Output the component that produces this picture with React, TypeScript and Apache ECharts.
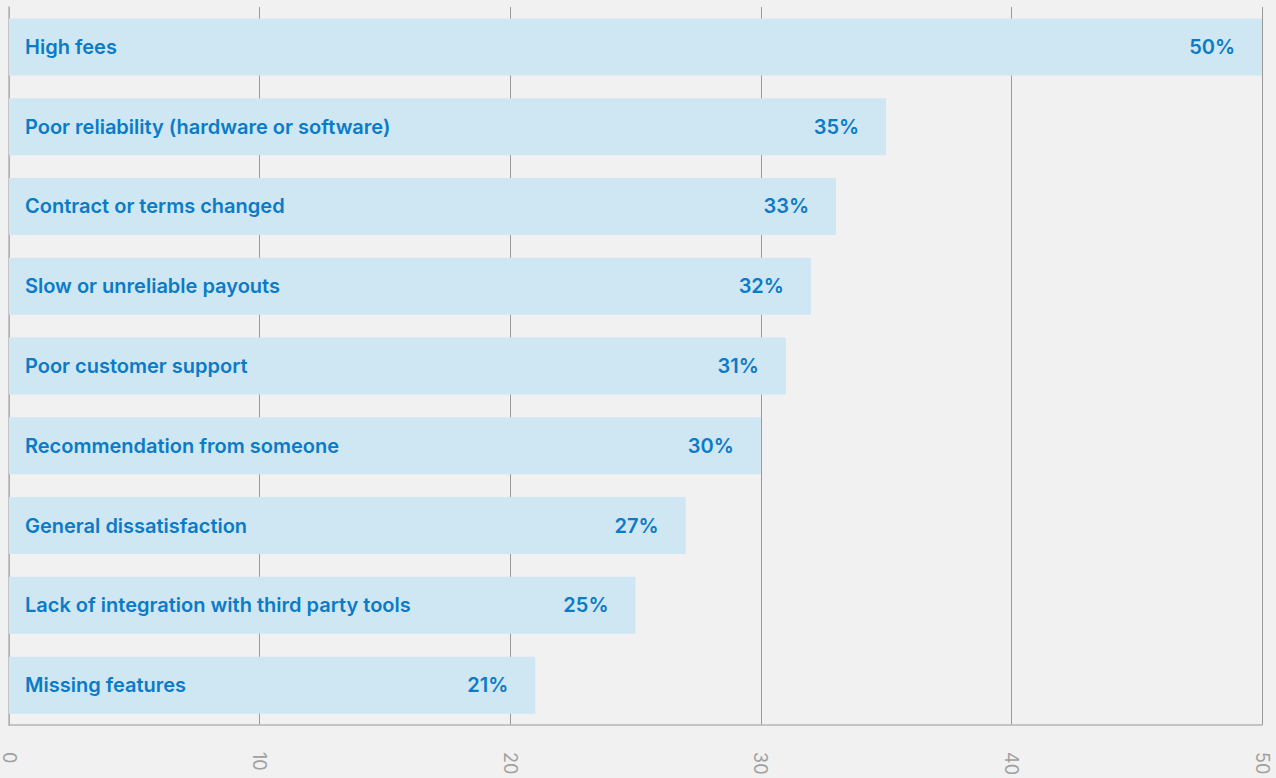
import React, { useEffect, useRef } from "react";
import * as echarts from "echarts";

const categories = [
  "High fees",
  "Poor reliability (hardware or software)",
  "Contract or terms changed",
  "Slow or unreliable payouts",
  "Poor customer support",
  "Recommendation from someone",
  "General dissatisfaction",
  "Lack of integration with third party tools",
  "Missing features",
];
const values = [50, 35, 33, 32, 31, 30, 27, 25, 21];
const xTicks = [0, 10, 20, 30, 40, 50];

const BLUE = "#0a7bc7";
const FONT = "Inter, 'Noto Sans', sans-serif";

export default function App() {
  const ref = useRef<HTMLDivElement>(null);
  useEffect(() => {
    if (!ref.current) return;
    const chart = echarts.init(ref.current, null, { renderer: "svg" });
    chart.setOption({
      animation: false,
      backgroundColor: "#f1f1f1",
      grid: { left: 9, right: 14, top: 7, bottom: 51, containLabel: false },
      xAxis: {
        type: "value",
        min: xTicks[0],
        max: xTicks[xTicks.length - 1],
        interval: 10,
        axisLine: { show: true, lineStyle: { color: "#b5b5b5", width: 1.5 } },
        axisTick: { show: false },
        splitLine: { show: true, lineStyle: { color: "#9a9a9a", width: 1 } },
        axisLabel: {
          rotate: -90,
          margin: 27,
          color: "#a0a0a0",
          fontSize: 18,
          fontFamily: FONT,
        },
      },
      yAxis: {
        type: "category",
        data: categories,
        inverse: true,
        axisLine: { show: true, lineStyle: { color: "#b5b5b5", width: 1.5 } },
        axisTick: { show: false },
        axisLabel: { show: false },
        splitLine: { show: false },
      },
      series: [
        {
          type: "bar",
          data: values,
          barWidth: 57,
          itemStyle: { color: "#cfe6f3" },
          label: {
            show: true,
            position: "insideLeft",
            distance: 16,
            formatter: (p: any) => categories[p.dataIndex],
            color: BLUE,
            fontSize: 20,
            fontWeight: 600,
            fontFamily: FONT,
          },
          z: 2,
        },
        {
          type: "bar",
          data: values,
          barWidth: 57,
          barGap: "-100%",
          itemStyle: { color: "rgba(0,0,0,0)" },
          label: {
            show: true,
            position: "insideRight",
            distance: 27,
            formatter: "{c}%",
            color: BLUE,
            fontSize: 20,
            fontWeight: 600,
            fontFamily: FONT,
          },
          z: 3,
        },
      ],
    });
    return () => chart.dispose();
  }, []);
  return (
    <div
      ref={ref}
      style={{ position: "absolute", left: 0, top: 0, width: 1276, height: 778 }}
    />
  );
}
